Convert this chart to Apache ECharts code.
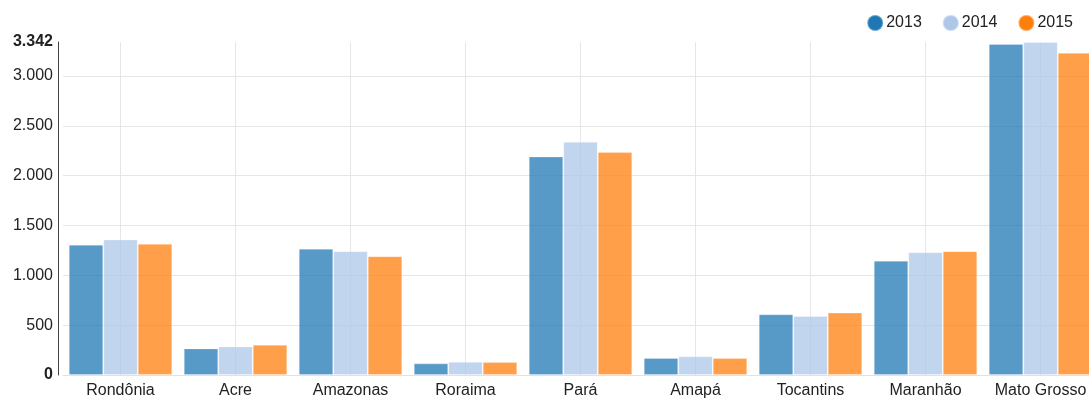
<!DOCTYPE html>
<html>
<head>
<meta charset="utf-8">
<script src="https://cdn.jsdelivr.net/npm/echarts@6/dist/echarts.min.js"></script>
<style>
html,body{margin:0;padding:0;background:#fff;overflow:hidden;width:1089px;height:399px;}
#chart{width:1098px;height:399px;}
</style>
</head>
<body>
<div id="chart"></div>
<script>
const categories = ['Rondônia','Acre','Amazonas','Roraima','Pará','Amapá','Tocantins','Maranhão','Mato Grosso'];
const seriesNames = ['2013','2014','2015'];
const values2013 = [1307, 267, 1267, 117, 2193, 170, 610, 1147, 3323];
const values2014 = [1360, 287, 1243, 133, 2340, 187, 593, 1233, 3342];
const values2015 = [1317, 303, 1193, 130, 2237, 170, 627, 1243, 3233];
const yMax = 3342;
const yInterval = 500;
const colors = ['#1f77b4','#aec7e8','#ff7f0e'];

function fmt(v){ return String(v).replace(/\B(?=(\d{3})+(?!\d))/g,'.'); }

const chart = echarts.init(document.getElementById('chart'), null, {renderer:'canvas'});
const allValues = [values2013, values2014, values2015];
chart.setOption({
  animation:false,
  color: colors,
  textStyle:{fontFamily:'Liberation Sans, Arial, sans-serif'},
  legend:{
    data: seriesNames,
    right: 25, top: 14, padding:0,
    icon:'circle', itemWidth:16, itemHeight:16, itemGap:20,
    itemStyle:{opacity:1},
    textStyle:{fontSize:16, color:'#222', padding:[0,0,0,-2]}
  },
  grid:{left:63, right:0, top:42, bottom:23, containLabel:false},
  xAxis:{
    type:'category', data: categories,
    axisLine:{show:true, lineStyle:{color:'#e2e2e2', width:1}},
    axisTick:{show:false},
    axisLabel:{fontSize:16, color:'#222', margin:8, interval:0},
    splitLine:{show:true, interval:0, alignWithLabel:true, lineStyle:{color:'#e6e6e6', width:1}}
  },
  yAxis:{
    type:'value', min:0, max:yMax, interval:yInterval, offset:5,
    axisLine:{show:true, lineStyle:{color:'#444', width:1}},
    axisTick:{show:false},
    axisLabel:{
      fontSize:16, color:'#222', margin:5,
      formatter: function(v){
        const s = fmt(v);
        return (v===0 || v===yMax) ? '{b|'+s+'}' : s;
      },
      rich:{b:{fontWeight:'bold', fontSize:16, color:'#222', fontFamily:'Liberation Sans, Arial, sans-serif'}}
    },
    splitLine:{show:true, lineStyle:{color:['#e6e6e6','#e6e6e6','#e6e6e6','#e6e6e6','#e6e6e6','#e6e6e6','#e6e6e6','rgba(0,0,0,0)'], width:1}}
  },
  series: seriesNames.map(function(name, i){
    return {
      name: name, type:'bar', data: allValues[i],
      barGap:'0%', barCategoryGap:'10%',
      itemStyle:{opacity:0.75, borderColor:'rgba(255,255,255,0.35)', borderWidth:1}
    };
  })
});
</script>
</body>
</html>
